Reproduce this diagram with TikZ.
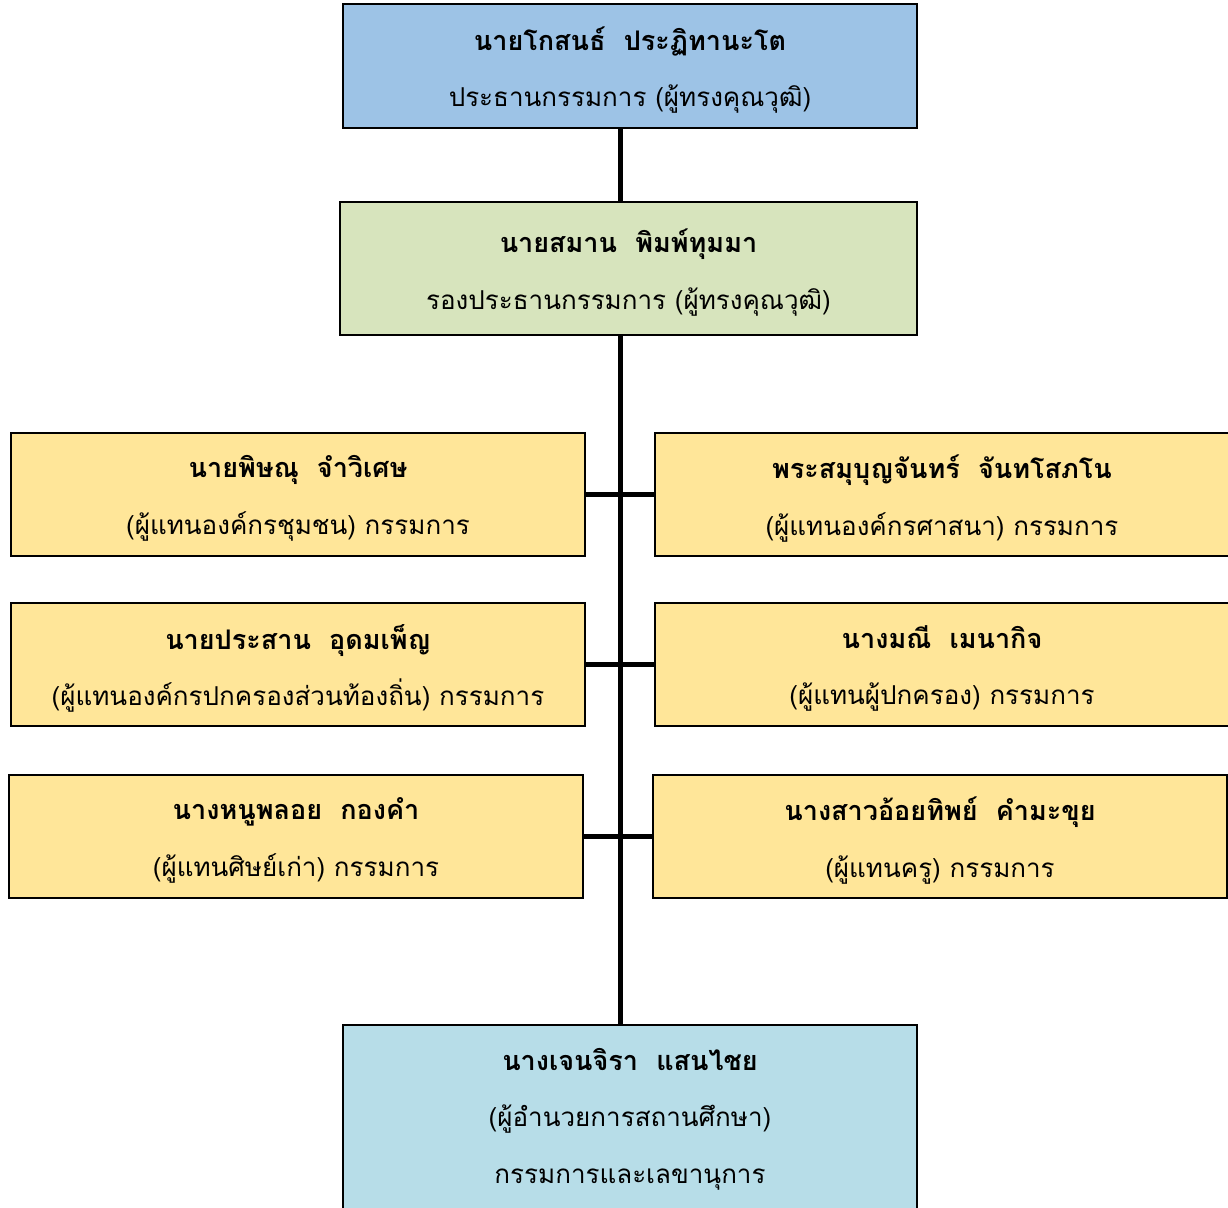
\documentclass[tikz,border=0pt]{standalone}
\usepackage{fontspec}
\newfontfamily\thai[Script=Thai]{Loma}
\newcommand{\nm}[2][8pt]{{\fontsize{27}{56}\selectfont\bfseries\raisebox{#1}{\vphantom{#2}}#2}}
\begin{document}
\begin{tikzpicture}[x=1pt,y=-1pt,
  box/.style={draw=black,line width=2pt,rectangle,align=center,
    font=\thai\fontsize{26}{56.5}\selectfont,inner sep=0pt},
  topc/.style={box,fill=topblue},
  vicec/.style={box,fill=vicegreen},
  memc/.style={box,fill=memyellow,minimum width=574pt,minimum height=123pt},
  secc/.style={box,fill=seclblue},
  link/.style={line width=5pt,black}]
\definecolor{topblue}{HTML}{9DC3E6}
\definecolor{vicegreen}{HTML}{D7E4BD}
\definecolor{memyellow}{HTML}{FFE699}
\definecolor{seclblue}{HTML}{B7DDE8}
\useasboundingbox (0,0) rectangle (1228,1207);
\begin{scope}
\clip (0,0) rectangle (1228,1207);
\node[topc,minimum width=574pt,minimum height=124pt] (chair) at (630,66)
  {\nm{นายโกสนธ์~~ประฏิทานะโต}\\ประธานกรรมการ (ผู้ทรงคุณวุฒิ)};
\node[vicec,minimum width=577pt,minimum height=133pt] (vice) at (628.5,268.5)
  {\nm{นายสมาน~~พิมพ์ทุมมา}\\รองประธานกรรมการ (ผู้ทรงคุณวุฒิ)};
\node[memc] (l1) at (298,494.5)
  {\nm{นายพิษณุ~~จำวิเศษ}\\(ผู้แทนองค์กรชุมชน) กรรมการ};
\node[memc] (r1) at (942,494.5)
  {\nm{พระสมุบุญจันทร์~~จันทโสภโน}\\(ผู้แทนองค์กรศาสนา) กรรมการ};
\node[memc] (l2) at (298,664.5)
  {\nm{นายประสาน~~อุดมเพ็ญ}\\(ผู้แทนองค์กรปกครองส่วนท้องถิ่น) กรรมการ};
\node[memc] (r2) at (942,664.5)
  {\nm{นางมณี~~เมนากิจ}\\(ผู้แทนผู้ปกครอง) กรรมการ};
\node[memc] (l3) at (296,836.5)
  {\nm{นางหนูพลอย~~กองคำ}\\(ผู้แทนศิษย์เก่า) กรรมการ};
\node[memc] (r3) at (940,836.5)
  {\nm{นางสาวอ้อยทิพย์~~คำมะขุย}\\(ผู้แทนครู) กรรมการ};
\node[secc,minimum width=574pt,minimum height=184pt] (sec) at (630,1117)
  {\nm[4pt]{นางเจนจิรา~~แสนไชย}\\(ผู้อำนวยการสถานศึกษา)\\กรรมการและเลขานุการ};
\coordinate (sp) at (620,0);
\draw[link] (chair.south -| sp) -- (vice.north -| sp);
\draw[link] (vice.south -| sp) -- (sec.north -| sp);
\draw[link] (l1.east) -- (r1.west);
\draw[link] (l2.east) -- (r2.west);
\draw[link] (l3.east) -- (r3.west);
\end{scope}
\end{tikzpicture}
\end{document}
